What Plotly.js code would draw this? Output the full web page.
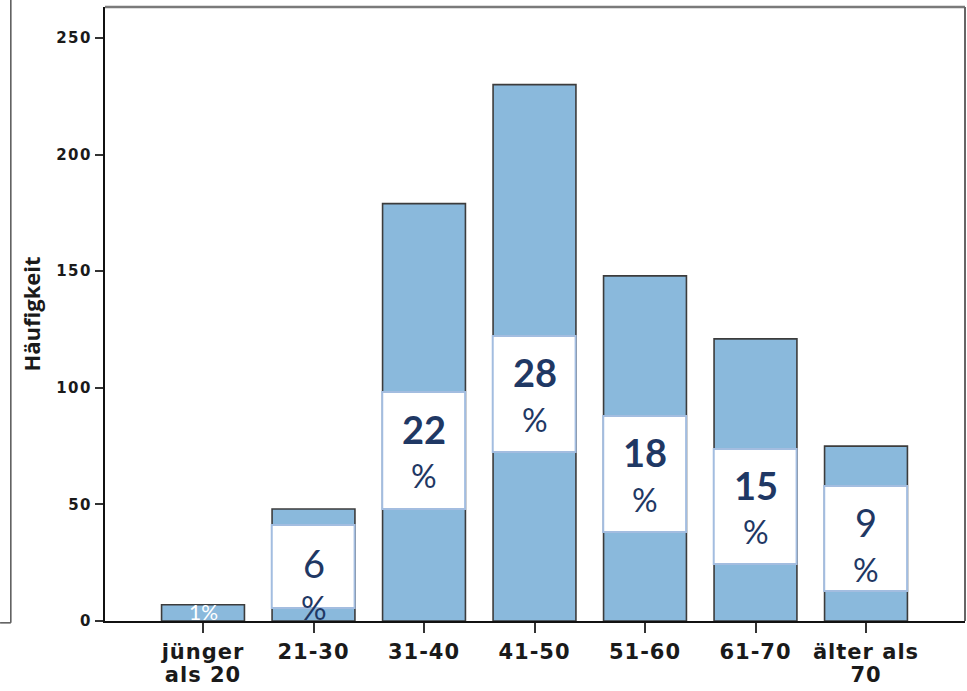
<!DOCTYPE html>
<html>
<head>
<meta charset="utf-8">
<script src="https://cdn.plot.ly/plotly-3.0.1.min.js"></script>
<style>html,body{margin:0;padding:0;background:#fff;}#chart{width:967px;height:691px;}</style>
</head>
<body>
<div id="chart"></div>
<script>
// ---- data ----
const categories = ["jünger als 20", "21-30", "31-40", "41-50", "51-60", "61-70", "älter als 70"];
const tickLabels = ["jünger<br>als 20", "21-30", "31-40", "41-50", "51-60", "61-70", "älter als<br>70"];
const counts = [7, 48, 179, 230, 148, 121, 75];
const percentLabels = ["1", "6", "22", "28", "18", "15", "9"];
const yTickValues = [0, 50, 100, 150, 200, 250];

// ---- label placement (layout only, value-axis units) ----
const boxTop    = [null, 41.2, 98.2, 122.2, 87.9, 73.8, 57.9];
const boxBottom = [null, 5.6, 48.0, 72.5, 38.2, 24.4, 12.9];
const numY      = [3.9, 24.9, 82.3, 106.8, 72.5, 58.3, 42.5];
const pctY      = [null, 5.6, 62.6, 86.2, 51.9, 38.2, 21.9];
const boldNum   = [false, false, true, true, true, true, false];

const navy = "#1f3864";
const barFill = "#8ab9dc";
const labelFont = "Lato, 'Open Sans', sans-serif";
const axisFont = "'DejaVu Sans', sans-serif";

const shapes = [];
const annotations = [];
categories.forEach((c, i) => {
  if (boxTop[i] !== null) {
    shapes.push({type: "rect", xref: "x", yref: "y", x0: i - 0.378, x1: i + 0.372,
      y0: boxBottom[i], y1: boxTop[i], fillcolor: "#ffffff",
      line: {color: "#a3bde0", width: 2}, layer: "above"});
    annotations.push({x: i, y: numY[i], xref: "x", yref: "y", showarrow: false,
      text: boldNum[i] ? "<b>" + percentLabels[i] + "</b>" : percentLabels[i],
      font: {family: labelFont, size: 38, color: navy}});
    annotations.push({x: i, y: pctY[i], xref: "x", yref: "y", showarrow: false,
      text: "%", font: {family: labelFont, size: 32, color: navy}});
  } else {
    annotations.push({x: i, y: numY[i], xref: "x", yref: "y", showarrow: false,
      text: percentLabels[i] + "%", font: {family: labelFont, size: 21, color: "#ffffff"}});
  }
});

// frame lines (top / right gray) and cropped neighbour box on far left
shapes.push({type: "line", xref: "paper", yref: "paper", x0: 0, x1: 1, y0: 1, y1: 1,
  line: {color: "#7a7a7a", width: 2.5}, layer: "above"});
shapes.push({type: "line", xref: "paper", yref: "paper", x0: 1, x1: 1, y0: 0, y1: 1,
  line: {color: "#666", width: 2}, layer: "above"});
shapes.push({type: "line", xref: "paper", yref: "paper", x0: -0.1095, x1: -0.1095, y0: -0.003, y1: 1.02,
  line: {color: "#555", width: 1.5}});
shapes.push({type: "line", xref: "paper", yref: "paper", x0: -0.122, x1: -0.1095, y0: -0.003, y1: -0.003,
  line: {color: "#555", width: 1.5}});

const trace = {
  type: "bar",
  x: categories,
  y: counts,
  width: 0.75,
  marker: {color: barFill, line: {color: "#3c3c3c", width: 1.6}},
  hoverinfo: "x+y"
};

const wide = (s, px, ls) => '<span style="font-size:' + px + 'px;letter-spacing:' + ls + 'px">' + s + '</span>';

const layout = {
  width: 967, height: 691,
  margin: {l: 105, r: 2, t: 7, b: 70},
  paper_bgcolor: "#ffffff",
  plot_bgcolor: "#ffffff",
  showlegend: false,
  bargap: 0.25,
  xaxis: {
    type: "category",
    range: [-0.887, 6.896],
    tickmode: "array",
    tickvals: categories,
    ticktext: tickLabels.map(t => t.split("<br>").map(l => wide(l, 21, 1)).join("<br>")),
    ticks: "outside", ticklen: 10, tickwidth: 2, tickcolor: "#333",
    ticklabelstandoff: 4,
    showline: true, linecolor: "#111", linewidth: 2,
    showgrid: false, zeroline: false,
    tickfont: {family: axisFont, size: 18, color: "#1a1a1a", weight: "bold"}
  },
  yaxis: {
    range: [0, 263.3],
    tickmode: "array",
    tickvals: yTickValues,
    ticktext: yTickValues.map(v => wide(String(v), 15, 1.5)),
    ticks: "outside", ticklen: 8, tickwidth: 2, tickcolor: "#333",
    showline: true, linecolor: "#111", linewidth: 2,
    showgrid: false, zeroline: false,
    tickfont: {family: axisFont, size: 15, color: "#1a1a1a", weight: "bold"},
    title: {text: "<b>Häufigkeit</b>", standoff: 9,
      font: {family: "'Open Sans', sans-serif", size: 22, color: "#1a1a1a"}}
  },
  shapes: shapes,
  annotations: annotations
};

Plotly.newPlot("chart", [trace], layout, {displayModeBar: false, staticPlot: true});
</script>
</body>
</html>
